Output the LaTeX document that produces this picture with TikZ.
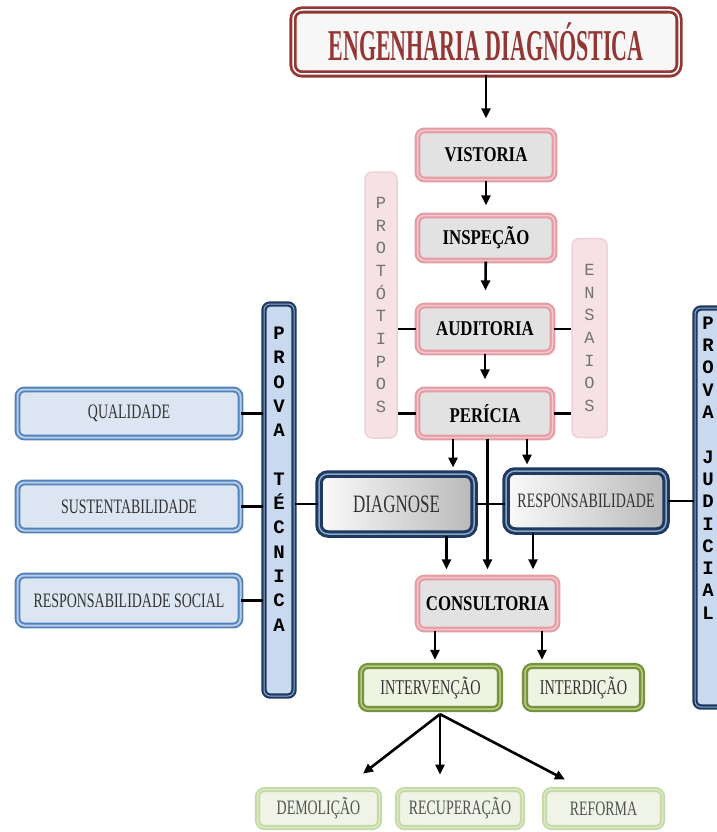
\documentclass[tikz,border=0pt]{standalone}
\usepackage{fontspec}
\setmainfont{Liberation Serif}
\newfontfamily\titlef[FakeStretch=0.5]{Liberation Serif}
\newfontfamily\boldcond[FakeStretch=0.8]{Liberation Serif}
\newfontfamily\regcond[FakeStretch=0.68]{Liberation Serif}
\newfontfamily\vmono{Liberation Mono}
\usetikzlibrary{arrows.meta,calc}
\definecolor{titred}{HTML}{943634}
\definecolor{pinkb}{HTML}{E49CA5}
\definecolor{pinkl}{HTML}{F4C8CD}
\definecolor{greyf}{HTML}{E2E2E2}
\definecolor{blueb}{HTML}{4F81BD}
\definecolor{bluel}{HTML}{B8CCE4}
\definecolor{bluef}{HTML}{DCE6F2}
\definecolor{navy}{HTML}{1F3A60}
\definecolor{navyl}{HTML}{8DA6C6}
\definecolor{colf}{HTML}{C9DAF0}
\definecolor{greenb}{HTML}{77933C}
\definecolor{greenl}{HTML}{B5CC88}
\definecolor{greenf}{HTML}{EEF3E2}
\definecolor{fgreenb}{HTML}{C5D9A5}
\definecolor{fgreenl}{HTML}{DCE8C8}
\definecolor{fgreenf}{HTML}{EFF4E6}
\definecolor{protf}{HTML}{F6E1E4}
\definecolor{protb}{HTML}{F0D2D6}
\definecolor{txtgrey}{HTML}{333333}
\tikzset{
  titlebox/.style={draw=titred, double=white, double distance=1.5pt, line width=2.8pt,
    fill=white!94!gray, rounded corners=9pt, inner sep=0pt, text=titred,
    font=\titlef\bfseries\fontsize{44}{44}\selectfont},
  pinkbox/.style={draw=pinkb, double=pinkl, double distance=1.5pt, line width=2.2pt,
    fill=greyf, rounded corners=7pt, inner sep=0pt,
    font=\boldcond\bfseries\fontsize{21}{21}\selectfont},
  bluebox/.style={draw=blueb, double=bluel, double distance=2pt, line width=1.9pt,
    fill=bluef, rounded corners=7pt, inner sep=0pt, text=txtgrey,
    font=\regcond\fontsize{20.5}{20.5}\selectfont},
  darkbox/.style={draw=navy, double=navyl, double distance=1.5pt, line width=3pt,
    left color=white!96!gray, right color=gray!55, rounded corners=9pt, inner sep=0pt,
    text=txtgrey},
  provacol/.style={draw=navy, double=navyl, double distance=1pt, line width=2.2pt,
    fill=colf, rounded corners=6pt, inner sep=0pt},
  provatxt/.style={align=center, inner sep=0pt, font=\vmono\bfseries\fontsize{19}{24.3}\selectfont},
  protcol/.style={draw=protb, line width=1.5pt, fill=protf, rounded corners=7pt,
    inner sep=0pt, align=center, text=gray!90!black, font=\vmono\fontsize{17}{22.7}\selectfont},
  greenbox/.style={draw=greenb, double=greenl, double distance=1.5pt, line width=2.3pt,
    fill=greenf, rounded corners=7pt, inner sep=0pt, text=txtgrey,
    font=\regcond\fontsize{21}{21}\selectfont},
  fadebox/.style={draw=fgreenb, double=fgreenl, double distance=1.5pt, line width=1.8pt,
    fill=fgreenf, rounded corners=7pt, inner sep=0pt, text=txtgrey!85,
    font=\regcond\fontsize{20.5}{20.5}\selectfont},
  conn/.style={line width=2.6pt, black},
  arr/.style={conn, -{Triangle[length=10pt,width=9pt]}, shorten >=9pt},
}
\begin{document}
\begin{tikzpicture}[x=1pt,y=-1pt]
\useasboundingbox (0,0) rectangle (716,832);
% title
\node[titlebox, minimum width=386, minimum height=64] (eng) at (486,42) {ENGENHARIA DIAGNÓSTICA};
% pink chain
\node[pinkbox, minimum width=137, minimum height=49] (vis) at (486,155) {VISTORIA};
\node[pinkbox, minimum width=137, minimum height=45] (insp) at (486,238) {INSPEÇÃO};
\node[pinkbox, minimum width=135, minimum height=47] (aud) at (485,329) {AUDITORIA};
\node[pinkbox, minimum width=135, minimum height=48] (per) at (485,413.5) {PERÍCIA};
\node[pinkbox, minimum width=140, minimum height=52] (cons) at (487.5,603.5) {CONSULTORIA};
% side columns
\node[protcol, minimum width=32, minimum height=266] (prot) at (381,305) {P\\R\\O\\T\\Ó\\T\\I\\P\\O\\S};
\node[protcol, minimum width=35, minimum height=199] (ens) at (589.5,338) {E\\N\\S\\A\\I\\O\\S};
% prova columns
\node[provacol, minimum width=30, minimum height=392] (ptec) at (279,500) {};
\node[provatxt] (ptect) at (279,479) {P\\R\\O\\V\\A\\\mbox{}\\T\\É\\C\\N\\I\\C\\A};
\node[provacol, minimum width=30, minimum height=399] (pjud) at (710,507.5) {};
\node[provatxt, font=\vmono\bfseries\fontsize{19}{22.3}\selectfont] (pjudt) at (708,468) {P\\R\\O\\V\\A\\\mbox{}\\J\\U\\D\\I\\C\\I\\A\\L};
% blue boxes
\node[bluebox, minimum width=223, minimum height=48] (qual) at (129,413.5) {QUALIDADE};
\node[bluebox, minimum width=223, minimum height=48] (sust) at (129,506.5) {SUSTENTABILIDADE};
\node[bluebox, minimum width=223, minimum height=50] (rsoc) at (129,600.5) {RESPONSABILIDADE SOCIAL};
% dark boxes
\node[darkbox, minimum width=155, minimum height=60, font=\regcond\fontsize{25}{25}\selectfont] (diag) at (396.5,504) {DIAGNOSE};
\node[darkbox, minimum width=160, minimum height=60, font=\regcond\fontsize{20.5}{20.5}\selectfont] (resp) at (586,501) {RESPONSABILIDADE};
% green boxes
\node[greenbox, minimum width=139, minimum height=43] (interv) at (430.5,687.5) {INTERVENÇÃO};
\node[greenbox, minimum width=117, minimum height=43] (interd) at (583.5,687.5) {INTERDIÇÃO};
\node[fadebox, minimum width=122, minimum height=38] (dem) at (318.5,808.5) {DEMOLIÇÃO};
\node[fadebox, minimum width=125, minimum height=38] (rec) at (460,808.5) {RECUPERAÇÃO};
\node[fadebox, minimum width=118, minimum height=38] (ref) at (603.5,808.5) {REFORMA};
% main arrows
\draw[arr, shorten >=11pt] (eng.south -| vis.north) -- (vis.north);
\draw[arr] (vis) -- (insp);
\draw[arr, shorten >=14pt] (insp) -- (aud);
\draw[arr] (aud) -- (per);
% side connectors
\draw[conn] (aud.west) -- (aud.west -| prot.east);
\draw[conn] (per.west) -- (per.west -| prot.east);
\draw[conn] (aud.east) -- (aud.east -| ens.west);
\draw[conn] (per.east) -- (per.east -| ens.west);
\draw[conn] (qual.east) -- (qual.east -| ptec.west);
\draw[conn] (sust.east) -- (sust.east -| ptec.west);
\draw[conn] (rsoc.east) -- (rsoc.east -| ptec.west);
\draw[conn] (diag.west) -- (diag.west -| ptec.east);
\draw[conn] (diag.east) -- (diag.east -| resp.west);
\draw[conn] (resp.east) -- (resp.east -| pjud.west);
% from pericia
\coordinate (pl) at ($(per.south)+(-32,0)$);
\coordinate (pr) at ($(per.south)+(42,0)$);
\draw[arr, shorten >=5pt] (pl) -- (pl |- diag.north);
\draw[arr, shorten >=5pt] (pr) -- (pr |- resp.north);
\draw[arr, shorten >=7pt] (per.south -| cons.north) -- (cons.north);
% to consultoria
\coordinate (dl) at ($(diag.south)+(50,0)$);
\coordinate (rl) at ($(resp.south)+(-53,0)$);
\draw[arr, shorten >=7pt] (dl) -- (dl |- cons.north);
\draw[arr, shorten >=7pt] (rl) -- (rl |- cons.north);
% consultoria to green
\coordinate (cl) at ($(cons.south)+(-52.5,0)$);
\coordinate (cr) at ($(cons.south)+(54.5,0)$);
\draw[arr, shorten >=5pt] (cl) -- (cl |- interv.north);
\draw[arr, shorten >=5pt] (cr) -- (cr |- interd.north);
% fork
\coordinate (fork) at ($(interv.south)+(9.5,4)$);
\draw[arr, shorten >=0pt] (fork) -- ($(dem.north)+(44.5,-15)$);
\draw[arr, shorten >=0pt] (fork) -- ($(rec.north)+(-20,-14)$);
\draw[arr, shorten >=0pt] (fork) -- ($(ref.north)+(-38.5,-9)$);
\end{tikzpicture}
\end{document}
